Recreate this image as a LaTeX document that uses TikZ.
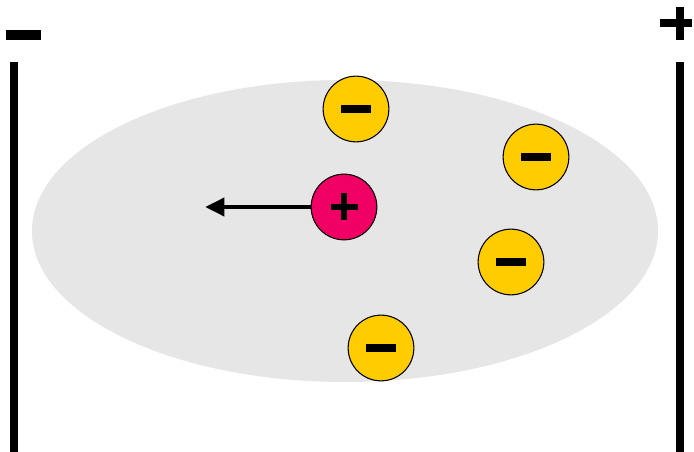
\documentclass[tikz,border=0pt]{standalone}
\usetikzlibrary{arrows.meta,calc}

\definecolor{plasmagray}{RGB}{230,230,230}
\definecolor{electronyellow}{RGB}{255,204,0}
\definecolor{ionpink}{RGB}{240,0,100}

\tikzset{
  electron/.style={circle,draw=black,line width=0.6pt,fill=electronyellow,minimum size=37.4pt,inner sep=0pt},
  ion/.style={circle,draw=black,line width=0.6pt,fill=ionpink,minimum size=37.4pt,inner sep=0pt},
  plate/.style={line width=5.1pt},
}

\begin{document}
\begin{tikzpicture}[x=0.02cm,y=-0.02cm]
        \useasboundingbox (0,0) rectangle (694,452);
        \fill[white] (0,0) rectangle (694,452);
        % gas cloud
        \fill[plasmagray] (345,231) ellipse[x radius=313,y radius=151];
        % plates
        \draw[plate] (14,62) -- (14,452);
        \draw[plate] (680,62) -- (680,452);
        \fill (6,30) rectangle (41,40);
        \fill (660,19) rectangle (692,27);
        \fill (675.5,7) rectangle (683.5,40);
        % charges
        \node[electron] (e1) at (356,109) {};
        \node[electron] (e2) at (536,157) {};
        \node[electron] (e3) at (511,262) {};
        \node[electron] (e4) at (381,348) {};
        \node[ion] (p1) at (344,207) {};
        \foreach \e in {e1,e2,e3,e4}
            \fill ($(\e)+(-15,-4)$) rectangle ($(\e)+(15,4)$);
        \fill ($(p1)+(-13.5,-3)$) rectangle ($(p1)+(13.5,3)$);
        \fill ($(p1)+(-3,-13.5)$) rectangle ($(p1)+(3,13.5)$);
        % drift
        \coordinate (tip) at (205,207);
        \draw[line width=2.8pt,-{Triangle[length=11pt,width=10pt]}] (p1.west) -- (tip);
    \end{tikzpicture}
\end{document}
